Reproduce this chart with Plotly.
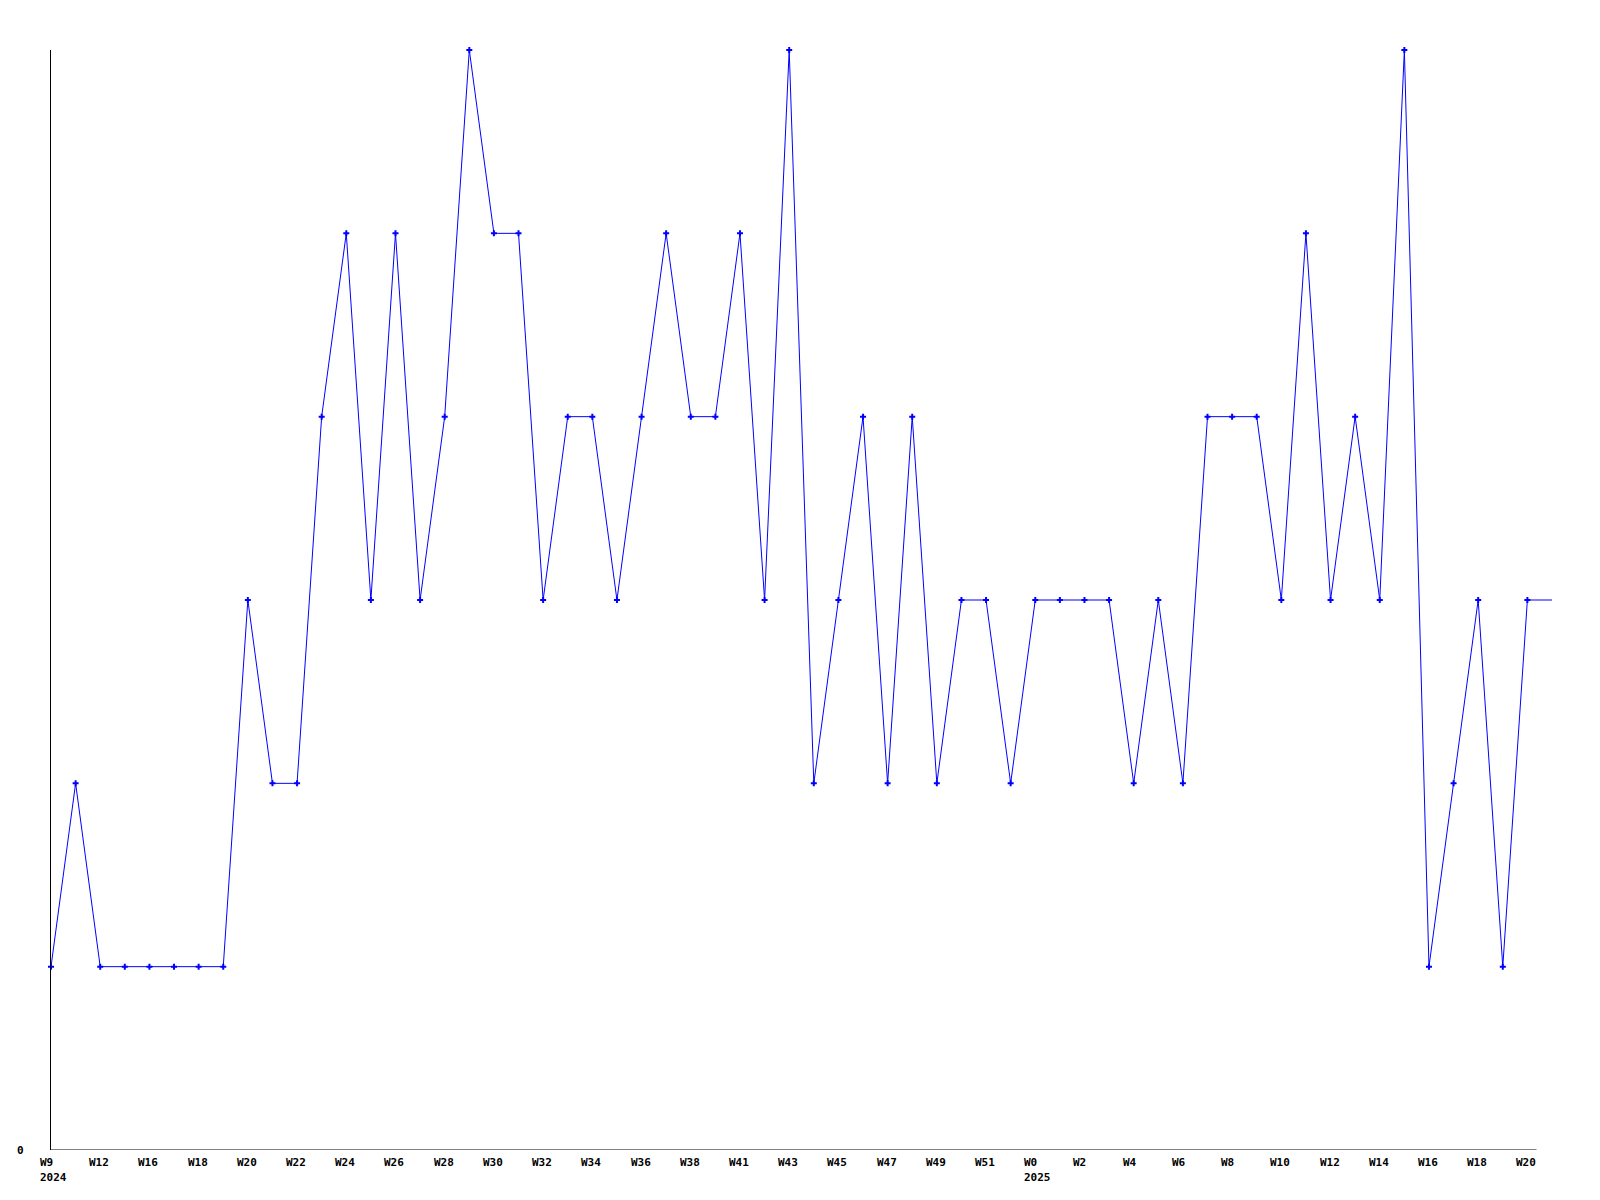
import plotly.graph_objects as go

values = [1, 2, 1, 1, 1, 1, 1, 1, 3, 2, 2, 4, 5, 3, 5, 3, 4, 6, 5, 5,
          3, 4, 4, 3, 4, 5, 4, 4, 5, 3, 6, 2, 3, 4, 2, 4, 2, 3, 3, 2,
          3, 3, 3, 3, 2, 3, 2, 4, 4, 4, 3, 5, 3, 4, 3, 6, 1, 2, 3, 1, 3]
tick_labels = ["W9", "W12", "W16", "W18", "W20", "W22", "W24", "W26", "W28", "W30",
               "W32", "W34", "W36", "W38", "W41", "W43", "W45", "W47", "W49", "W51",
               "W0", "W2", "W4", "W6", "W8", "W10", "W12", "W14", "W16", "W18", "W20"]
# year label shown under the tick with this tick-label index
year_labels = {0: "2024", 20: "2025"}

n = len(values)
xs = list(range(n))
FONT = dict(family="DejaVu Sans Mono", size=11, color="black")

fig = go.Figure()
# trailing continuation of the latest value
fig.add_trace(go.Scatter(x=[n - 1, n], y=[values[-1], values[-1]], mode="lines",
                         line=dict(color="#0000FF", width=1), hoverinfo="skip",
                         showlegend=False))
fig.add_trace(go.Scatter(x=xs, y=values, mode="lines+markers",
                         line=dict(color="#0000FF", width=1),
                         marker=dict(symbol="cross", size=5, color="#0000FF",
                                     line=dict(width=0)),
                         showlegend=False, cliponaxis=False))

annotations = []
for k, lab in enumerate(tick_labels):
    idx = 2 * k
    annotations.append(dict(x=idx, y=0, xref="x", yref="paper", text="<b>" + lab + "</b>",
                            showarrow=False, xanchor="left", yanchor="middle",
                            xshift=-13, yshift=-12, font=FONT))
for k, yr in year_labels.items():
    annotations.append(dict(x=2 * k, y=0, xref="x", yref="paper",
                            text="<b>" + yr + "</b>", showarrow=False, xanchor="left",
                            yanchor="middle", xshift=-13, yshift=-27, font=FONT))
annotations.append(dict(x=0, y=0, xref="paper", yref="y", text="<b>0</b>", showarrow=False,
                        xanchor="right", yanchor="middle", xshift=-25, font=FONT))

fig.update_layout(
    width=1600, height=1200,
    margin=dict(l=43, r=56, t=42, b=58),
    paper_bgcolor="white", plot_bgcolor="white",
    xaxis=dict(range=[0, n], showgrid=False, zeroline=False, showline=False,
               showticklabels=False, ticks=""),
    yaxis=dict(range=[0, 6], showgrid=False, zeroline=False, showline=True,
               linecolor="black", linewidth=1, showticklabels=False, ticks=""),
    annotations=annotations,
    shapes=[dict(type="line", xref="x", yref="y", x0=0, x1=n - 0.63, y0=0, y1=0,
                 line=dict(color="black", width=1))],
)

fig.write_html("out.html")
